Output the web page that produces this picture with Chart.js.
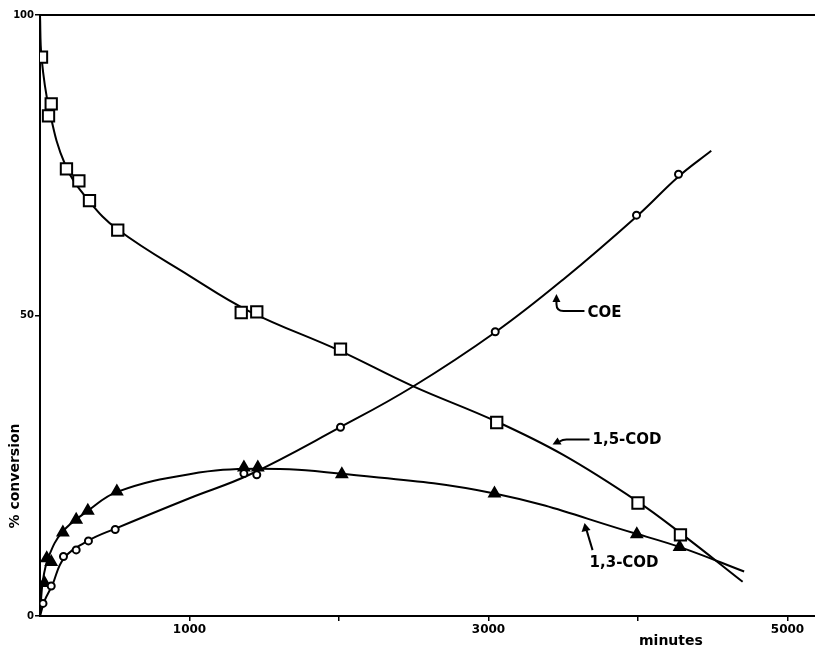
<!DOCTYPE html>
<html>
<head>
<meta charset="utf-8">
<script src="https://cdn.jsdelivr.net/npm/chart.js@4.4.1/dist/chart.umd.min.js"></script>
<style>
  html, body { margin: 0; padding: 0; background: #fff; }
  #wrap { width: 815px; height: 649px; position: relative; }
</style>
</head>
<body>
<div id="wrap"><canvas id="chart"></canvas></div>
<script>
// measured points (minutes, % conversion)
const codMinutes15 = [10, 57, 75, 177, 260, 331, 520, 1346, 1450, 2010, 3055, 4000, 4284];
const codValues15 = [93.0, 83.2, 85.2, 74.4, 72.4, 69.1, 64.2, 50.5, 50.6, 44.4, 32.2, 18.8, 13.5];

const coeMinutes = [20, 75, 157, 242, 324, 503, 1364, 1450, 2010, 3045, 3990, 4271];
const coeValues = [2.1, 5.0, 9.9, 11.0, 12.5, 14.4, 23.7, 23.5, 31.4, 47.3, 66.7, 73.5];

const codMinutes13 = [30, 45, 75, 153, 242, 320, 514, 1364, 1457, 2019, 3040, 3992, 4278];
const codValues13 = [5.5, 9.6, 9.0, 13.9, 16.0, 17.5, 20.7, 24.7, 24.7, 23.6, 20.4, 13.6, 11.5];

// hand-drawn fitted curves
const codCurveMinutes15 = [0, 10, 60, 170, 330, 520, 1000, 1400, 2000, 2490, 3050, 3500, 4000, 4300, 4700];
const codCurveValues15 = [100, 93, 84.5, 75, 69, 64.3, 56.6, 50.7, 44.2, 38.3, 32.4, 26.8, 19, 13.5, 5.7];

const coeCurveMinutes = [0, 30, 80, 160, 320, 500, 1000, 1400, 2000, 2490, 3050, 3500, 4000, 4270, 4490];
const coeCurveValues = [0, 2.5, 5, 9.6, 12.5, 14.5, 19.6, 23.5, 31.3, 38.1, 47.3, 56, 66.7, 73.1, 77.4];

const codCurveMinutes13 = [0, 20, 60, 150, 320, 520, 1000, 1450, 2000, 3040, 4000, 4300, 4710];
const codCurveValues13 = [0, 6, 10, 14, 17.5, 20.7, 23.6, 24.5, 23.7, 20.4, 13.6, 11.3, 7.4];

const xTickLabels = [1000, 3000, 5000];
const yTickLabels = [0, 50, 100];

const pts = (xs, ys) => xs.map((x, i) => ({ x: x, y: ys[i] }));

const FONT = '"DejaVu Sans", Arial, sans-serif';

// axis titles, top rule and curve labels
const decorations = {
  id: 'decorations',
  afterDraw(chart) {
    const { ctx, chartArea, scales } = chart;
    const xs = scales.x, ys = scales.y;
    ctx.save();
    ctx.strokeStyle = '#000';
    ctx.fillStyle = '#000';
    ctx.lineWidth = 2;
    ctx.beginPath();
    ctx.moveTo(chartArea.left, chartArea.top);
    ctx.lineTo(chart.width, chartArea.top);
    ctx.stroke();

    ctx.font = 'bold 14px ' + FONT;
    ctx.textAlign = 'left';
    ctx.textBaseline = 'middle';
    ctx.fillText('minutes', xs.getPixelForValue(4000) + 1, 641);

    ctx.save();
    ctx.translate(15, 476);
    ctx.rotate(-Math.PI / 2);
    ctx.textAlign = 'center';
    ctx.fillText('% conversion', 0, 0);
    ctx.restore();

    ctx.font = 'bold 15px ' + FONT;
    // COE
    let tx = xs.getPixelForValue(3662), ty = ys.getPixelForValue(50.4);
    ctx.fillText('COE', tx, ty);
    ctx.lineWidth = 2;
    ctx.beginPath();
    ctx.moveTo(tx - 3, ty - 2);
    ctx.lineTo(tx - 24, ty - 2);
    ctx.quadraticCurveTo(tx - 31, ty - 2, tx - 31, ty - 9);
    ctx.lineTo(tx - 31, ty - 13);
    ctx.stroke();
    ctx.beginPath();
    ctx.moveTo(tx - 31, ty - 19);
    ctx.lineTo(tx - 35, ty - 11);
    ctx.lineTo(tx - 27, ty - 11);
    ctx.closePath();
    ctx.fill();

    // 1,5-COD
    tx = xs.getPixelForValue(3696); ty = ys.getPixelForValue(29.2);
    ctx.fillText('1,5-COD', tx, ty);
    ctx.beginPath();
    ctx.moveTo(tx - 3, ty - 1);
    ctx.lineTo(tx - 26, ty - 1);
    ctx.quadraticCurveTo(tx - 30, ty - 1, tx - 33, ty + 1);
    ctx.stroke();
    ctx.beginPath();
    ctx.moveTo(tx - 40, ty + 4);
    ctx.lineTo(tx - 35, ty - 3);
    ctx.lineTo(tx - 31, ty + 4);
    ctx.closePath();
    ctx.fill();

    // 1,3-COD
    tx = xs.getPixelForValue(3676); ty = ys.getPixelForValue(8.8);
    ctx.fillText('1,3-COD', tx, ty);
    ctx.beginPath();
    ctx.moveTo(tx + 3, ty - 13);
    ctx.lineTo(tx - 3, ty - 33);
    ctx.stroke();
    ctx.beginPath();
    ctx.moveTo(tx - 5, ty - 40);
    ctx.lineTo(tx - 8, ty - 31);
    ctx.lineTo(tx + 1, ty - 33);
    ctx.closePath();
    ctx.fill();
    ctx.restore();
  }
};

const curve = (label, xs, ys) => ({
  label: label,
  data: pts(xs, ys),
  showLine: true,
  borderColor: '#000',
  borderWidth: 2,
  pointRadius: 0,
  tension: 0.4,
  fill: false,
  order: 2
});

const markers = (label, xs, ys, style, radius, fill) => ({
  label: label,
  data: pts(xs, ys),
  showLine: false,
  pointStyle: style,
  pointRadius: radius,
  pointBorderWidth: 2,
  pointBorderColor: '#000',
  pointBackgroundColor: fill,
  order: 1
});

new Chart(document.getElementById('chart'), {
  type: 'scatter',
  data: {
    datasets: [
      curve('1,5-COD curve', codCurveMinutes15, codCurveValues15),
      curve('COE curve', coeCurveMinutes, coeCurveValues),
      curve('1,3-COD curve', codCurveMinutes13, codCurveValues13),
      markers('1,5-COD', codMinutes15, codValues15, 'rect', 8, '#fff'),
      markers('COE', coeMinutes, coeValues, 'circle', 3.5, '#fff'),
      markers('1,3-COD', codMinutes13, codValues13, 'triangle', 6, '#000')
    ]
  },
  plugins: [decorations],
  options: {
    responsive: true,
    maintainAspectRatio: false,
    animation: false,
    layout: { autoPadding: false, padding: { top: 15, right: 0, bottom: 0, left: 0 } },
    plugins: {
      legend: { display: false },
      tooltip: { enabled: false }
    },
    scales: {
      x: {
        type: 'linear',
        min: 0,
        max: 5184,
        afterFit: (s) => { s.height = 33; s.paddingLeft = 0; s.paddingRight = 0; },
        afterBuildTicks: (s) => { s.ticks = [1000, 2000, 3000, 4000, 5000].map(v => ({ value: v })); },
        border: { display: true, color: '#000', width: 2 },
        grid: { display: true, drawOnChartArea: false, drawTicks: true, tickLength: 5, color: '#000', lineWidth: 1.5 },
        ticks: {
          color: '#000',
          font: { family: FONT, size: 12, weight: 'bold' },
          padding: 2,
          maxRotation: 0,
          autoSkip: false,
          callback: (v) => xTickLabels.includes(v) ? String(v) : ''
        }
      },
      y: {
        type: 'linear',
        min: 0,
        max: 100,
        afterFit: (s) => { s.width = 40; s.paddingTop = 0; s.paddingBottom = 0; },
        afterBuildTicks: (s) => { s.ticks = yTickLabels.map(v => ({ value: v })); },
        border: { display: true, color: '#000', width: 2 },
        grid: { display: true, drawOnChartArea: false, drawTicks: true, tickLength: 5, color: '#000', lineWidth: 1.5 },
        ticks: {
          color: '#000',
          font: { family: FONT, size: 10, weight: 'bold' },
          padding: 1,
          callback: (v) => String(v)
        }
      }
    }
  }
});
</script>
</body>
</html>
